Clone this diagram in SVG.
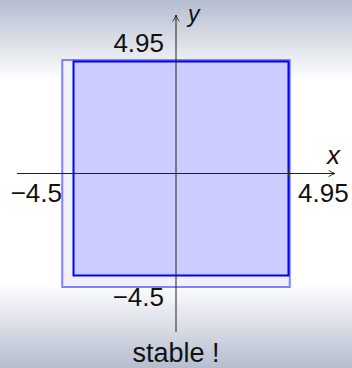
<svg xmlns="http://www.w3.org/2000/svg" width="352" height="368" viewBox="0 0 352 368">
  <defs>
    <linearGradient id="bg" x1="0" y1="0" x2="0" y2="1">
      <stop offset="0" stop-color="#b5bdcf"/>
      <stop offset="0.22" stop-color="#ffffff"/>
      <stop offset="0.77" stop-color="#ffffff"/>
      <stop offset="1" stop-color="#b5bdcf"/>
    </linearGradient>
    <marker id="arr" viewBox="0 0 10 10" refX="9" refY="5" markerWidth="8" markerHeight="8" markerUnits="userSpaceOnUse" orient="auto">
      <path d="M1,1 Q5,4 9,5 Q5,6 1,9" fill="none" stroke="#222" stroke-width="1.2"/>
    </marker>
    <style>
      .lbl { font-family: "Liberation Sans", Arial, sans-serif; font-size: 26px; fill: #111; }
      .var { font-family: "Liberation Sans", Arial, sans-serif; font-size: 26px; font-style: italic; fill: #111; }
      .axis { stroke: #222; stroke-width: 1; fill: none; }
      .tick { stroke: #222; stroke-width: 1; }
    </style>
  </defs>
  <rect x="0" y="0" width="352" height="368" fill="url(#bg)"/>

  <g id="outer-square">
    <rect x="62.25" y="60" width="227.5" height="227" fill="#f0f0ff" stroke="#8080ff" stroke-width="2"/>
  </g>
  <g id="inner-square">
    <rect x="73.5" y="61.5" width="215" height="214" fill="#ccccff" stroke="#0000ff" stroke-width="2"/>
  </g>

  <g id="axes">
    <line class="axis" x1="17" y1="173.5" x2="335" y2="173.5" marker-end="url(#arr)"/>
    <line class="axis" x1="176" y1="332" x2="176" y2="15" marker-end="url(#arr)"/>
    <line class="tick" x1="73.5" y1="169.5" x2="73.5" y2="177.5"/>
    <line class="tick" x1="288.5" y1="169.5" x2="288.5" y2="177.5"/>
    <line class="tick" x1="172" y1="61.5" x2="180" y2="61.5"/>
    <line class="tick" x1="172" y1="275.5" x2="180" y2="275.5"/>
  </g>

  <g id="labels">
    <text class="var" x="327" y="164">x</text>
    <text class="var" x="188" y="22" style="font-size:23px">y</text>
    <text class="lbl" x="164" y="52" text-anchor="end">4.95</text>
    <text class="lbl" x="164" y="306" text-anchor="end">−4.5</text>
    <text class="lbl" x="62" y="202" text-anchor="end">−4.5</text>
    <text class="lbl" x="298" y="202">4.95</text>
    <text class="lbl" x="176" y="362" text-anchor="middle" style="font-size:27px">stable !</text>
  </g>
</svg>
